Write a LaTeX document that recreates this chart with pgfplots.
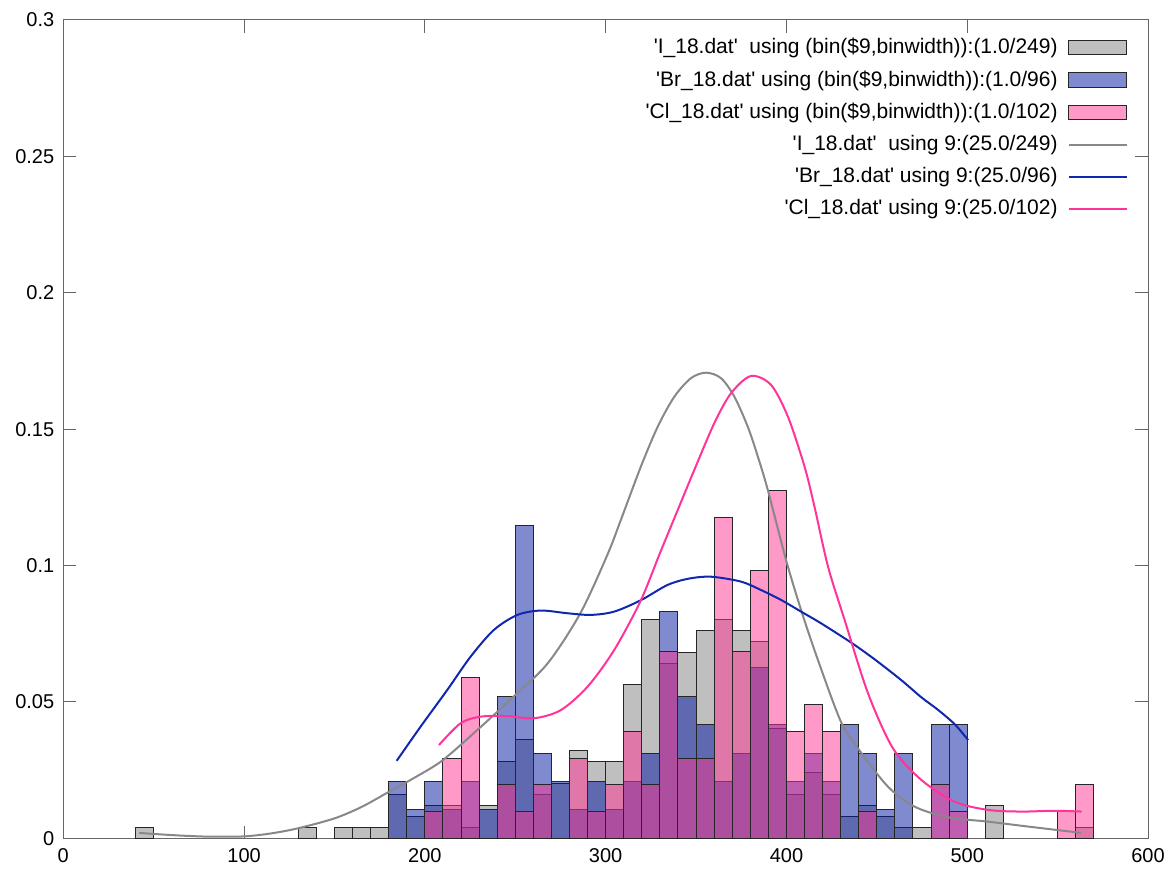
\documentclass[border=0pt]{standalone}
\usepackage{pgfplots}
\pgfplotsset{compat=1.18}
\usepackage{fontspec}
\setmainfont{Liberation Sans}

\definecolor{igray}{RGB}{127,127,127}
\definecolor{brblue}{RGB}{0,21,160}
\definecolor{clpink}{RGB}{255,51,145}
\definecolor{lgray}{RGB}{136,136,136}
\definecolor{lblue}{RGB}{16,40,176}
\definecolor{lpink}{RGB}{255,51,153}

\pgfplotsset{
  histbar/.style={ybar, bar width=10, bar shift=0pt, fill opacity=0.5,
    draw=black!85, line width=0.5pt,
    legend image code/.code={\draw[##1] (0pt,-3.6pt) rectangle (29pt,3.6pt);}},
  kde/.style={no marks, smooth, line width=1pt,
    legend image code/.code={\draw[##1] (0pt,0pt) -- (29pt,0pt);}},
}

\begin{document}
\begin{tikzpicture}
\useasboundingbox (0,0) rectangle (585pt,441pt);
\begin{axis}[
    at={(31.65pt,21.85pt)}, anchor=south west,
    scale only axis, width=542.35pt, height=409.15pt,
    xmin=0, xmax=600, ymin=0, ymax=0.3,
    xtick={0,100,...,600},
    ytick={0,0.05,0.1,0.15,0.2,0.25,0.3},
    yticklabel style={/pgf/number format/fixed, /pgf/number format/precision=2},
    /pgf/number format/assume math mode=true,
    tick label style={font=\fontsize{10}{12}\selectfont},
    xticklabel style={yshift=-1.5pt},
    yticklabel style={xshift=-1pt},
    tick align=inside, major tick length=6.3pt,
    axis line style={black!60, line width=0.5pt},
    every tick/.style={black!60, line width=0.5pt},
    legend cell align=right, legend plot pos=right,
    legend style={at={(1,1)}, anchor=north east, xshift=-7pt, yshift=-5pt,
      draw=none, fill=none, font=\fontsize{10.5}{12.5}\selectfont,
      row sep=2.9pt, column sep=3pt},
  ]
  % histograms, count/N per 10-wide bin
  \addplot[histbar, fill=igray] coordinates {
    (45,0.00402) (135,0.00402) (155,0.00402) (165,0.00402) (175,0.00402)
    (185,0.01606) (195,0.00803) (205,0.01205) (215,0.01205) (225,0.00402)
    (235,0.01205) (245,0.02811) (255,0.03614) (265,0.01606) (275,0.02008)
    (285,0.03213) (295,0.02811) (305,0.02811) (315,0.05622) (325,0.08032)
    (335,0.06426) (345,0.06827) (355,0.07631) (365,0.08032) (375,0.07631)
    (385,0.07229) (395,0.04016) (405,0.01606) (415,0.02410) (425,0.01606)
    (435,0.00803) (445,0.01205) (455,0.00803) (465,0.00402) (475,0.00402)
    (515,0.01205) (565,0.00402)
  };
  \addlegendentry{\textquotesingle I\_18.dat\textquotesingle\ \ using (bin(\$9,binwidth)):(1.0/249)}
  \addplot[histbar, fill=brblue] coordinates {
    (185,0.02083) (195,0.01042) (205,0.02083) (215,0.01042) (225,0.02083)
    (235,0.01042) (245,0.05208) (255,0.11458) (265,0.03125) (275,0.02083)
    (285,0.01042) (295,0.02083) (305,0.01042) (315,0.02083) (325,0.03125)
    (335,0.08333) (345,0.05208) (355,0.04167) (365,0.02083) (375,0.03125)
    (385,0.06250) (395,0.04167) (405,0.02083) (415,0.03125) (425,0.02083)
    (435,0.04167) (445,0.03125) (455,0.01042) (465,0.03125) (485,0.04167)
    (495,0.04167)
  };
  \addlegendentry{\textquotesingle Br\_18.dat\textquotesingle\ using (bin(\$9,binwidth)):(1.0/96)}
  \addplot[histbar, fill=clpink] coordinates {
    (205,0.00980) (215,0.02941) (225,0.05882) (245,0.01961) (255,0.00980)
    (265,0.01961) (285,0.02941) (295,0.00980) (305,0.01961) (315,0.03922)
    (325,0.01961) (335,0.06863) (345,0.02941) (355,0.02941) (365,0.11765)
    (375,0.06863) (385,0.09804) (395,0.12745) (405,0.03922) (415,0.04902)
    (425,0.03922) (445,0.00980) (485,0.01961) (495,0.00980) (555,0.00980)
    (565,0.01961)
  };
  \addlegendentry{\textquotesingle Cl\_18.dat\textquotesingle\ using (bin(\$9,binwidth)):(1.0/102)}
  % kernel density curves
  \addplot[kde, lgray] coordinates {
    (42,0.0020) (50,0.0016) (65,0.0010) (81,0.0006) (100,0.0007)
    (115,0.0018) (130,0.0037) (150,0.0073) (165,0.0115) (180,0.0170)
    (195,0.0225) (210,0.0287) (231,0.0409) (249,0.0519) (268,0.0642)
    (286,0.0825) (301,0.1040) (308.4,0.1167) (319.5,0.1363) (328.8,0.1509)
    (338,0.1619) (347.2,0.1687) (355.5,0.1707) (363.8,0.1687) (371.2,0.1619)
    (378.6,0.1509) (384.2,0.1399) (389.7,0.1277) (399.8,0.1020) (408.1,0.0837)
    (417.4,0.0654) (430.3,0.0425) (440.4,0.0322) (456.2,0.0189) (470.9,0.0116)
    (489.4,0.0077) (511.6,0.0061) (533.7,0.0043) (563,0.0020)
  };
  \addlegendentry{\textquotesingle I\_18.dat\textquotesingle\ \ using 9:(25.0/249)}
  \addplot[kde, lblue] coordinates {
    (184.4,0.0284) (197.6,0.0409) (212.4,0.0544) (225.3,0.0666) (238.2,0.0764)
    (251.2,0.0819) (264.1,0.0835) (278.9,0.0825) (291.8,0.0819) (304.7,0.0831)
    (319.5,0.0873) (334.3,0.0929) (346,0.0952) (358.3,0.0959) (374.9,0.0941)
    (386,0.0910) (397,0.0874) (408.1,0.0831) (419.2,0.0788) (435.9,0.0717)
    (449,0.0655) (463.5,0.0580) (474.6,0.0517) (484,0.0470) (493.1,0.0418)
    (500.5,0.0360)
  };
  \addlegendentry{\textquotesingle Br\_18.dat\textquotesingle\ using 9:(25.0/96)}
  \addplot[kde, lpink] coordinates {
    (207.8,0.0342) (219.8,0.0422) (230.9,0.0446) (245.6,0.0448) (260.4,0.0440)
    (275.2,0.0470) (290,0.0556) (304.7,0.0690) (319.3,0.0870) (330,0.1045)
    (339.9,0.1204) (349,0.1350) (360.1,0.1522) (369.4,0.1632) (380.4,0.1695)
    (391.5,0.1662) (400.8,0.1546) (410,0.1363) (415.5,0.1216) (423,0.0996)
    (432.2,0.0800) (445.1,0.0532) (458.9,0.0330) (474.6,0.0214) (493.1,0.0134)
    (511.6,0.0104) (530,0.0098) (548.5,0.0101) (563.3,0.0098)
  };
  \addlegendentry{\textquotesingle Cl\_18.dat\textquotesingle\ using 9:(25.0/102)}
\end{axis}
\end{tikzpicture}
\end{document}
